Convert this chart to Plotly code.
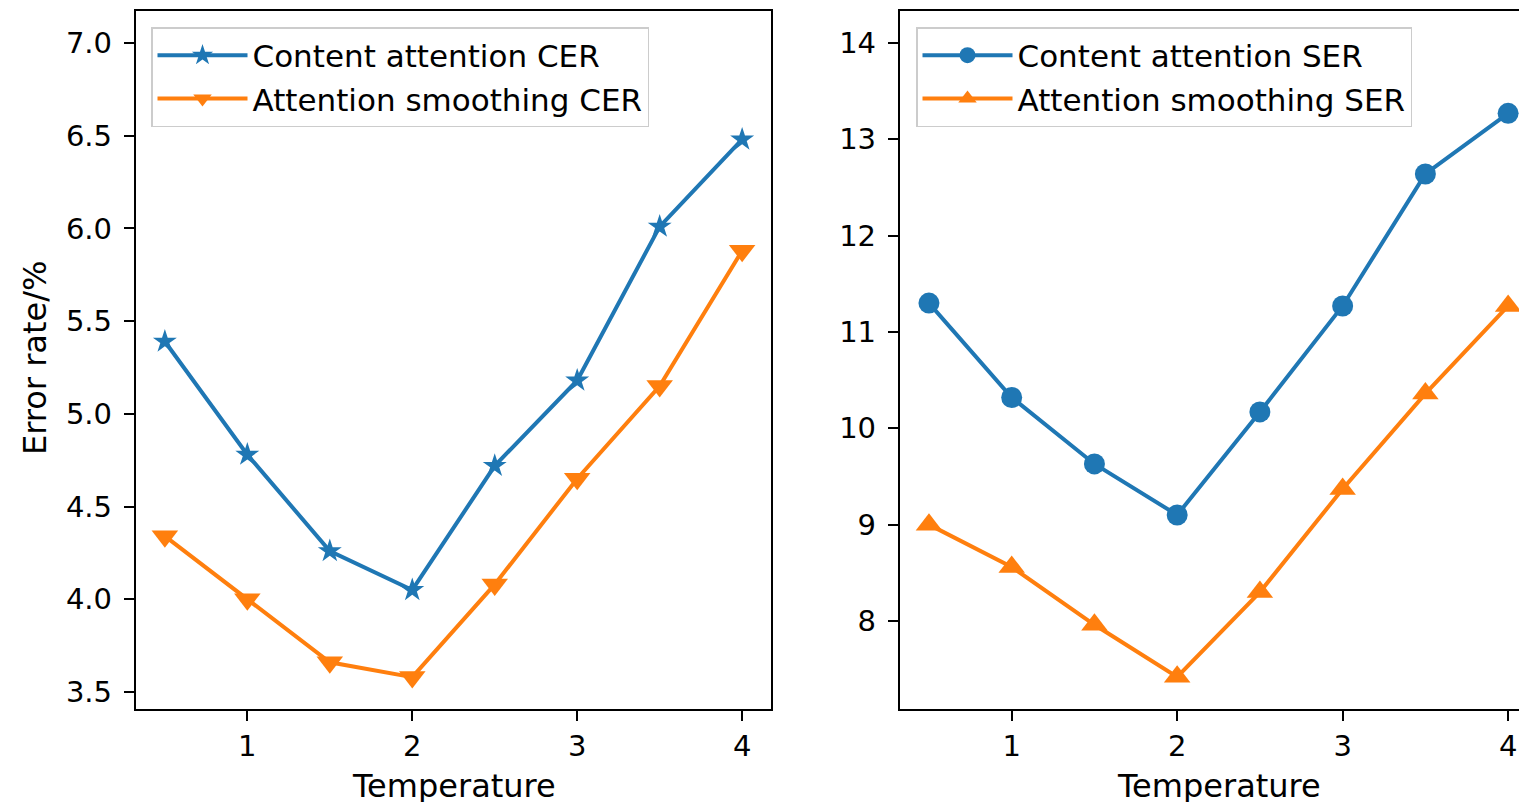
import plotly.graph_objects as go

temperature = [0.5, 1.0, 1.5, 2.0, 2.5, 3.0, 3.5, 4.0]
content_cer = [5.39, 4.78, 4.26, 4.05, 4.72, 5.18, 6.01, 6.48]
smoothing_cer = [4.34, 4.00, 3.66, 3.58, 4.08, 4.65, 5.15, 5.88]
content_ser = [11.30, 10.32, 9.63, 9.10, 10.17, 11.27, 12.64, 13.27]
smoothing_ser = [9.00, 8.56, 7.96, 7.42, 8.30, 9.37, 10.36, 11.27]

BLUE = "#1f77b4"
ORANGE = "#ff7f0e"
FONT = "DejaVu Sans"
FS_TICK = 29
FS_LEG = 31
FS_LAB = 32
W, H = 1519, 802

fig = go.Figure()

fig.add_trace(go.Scatter(x=temperature, y=content_cer, mode="lines+markers",
                         name="Content attention CER",
                         line=dict(color=BLUE, width=4),
                         marker=dict(symbol="star", size=18, color=BLUE),
                         xaxis="x", yaxis="y", legend="legend"))
fig.add_trace(go.Scatter(x=temperature, y=smoothing_cer, mode="lines+markers",
                         name="Attention smoothing CER",
                         line=dict(color=ORANGE, width=4),
                         marker=dict(symbol="triangle-down", size=23, color=ORANGE),
                         xaxis="x", yaxis="y", legend="legend"))
fig.add_trace(go.Scatter(x=temperature, y=content_ser, mode="lines+markers",
                         name="Content attention SER",
                         line=dict(color=BLUE, width=4),
                         marker=dict(symbol="circle", size=21, color=BLUE),
                         xaxis="x2", yaxis="y2", legend="legend2"))
fig.add_trace(go.Scatter(x=temperature, y=smoothing_ser, mode="lines+markers",
                         name="Attention smoothing SER",
                         line=dict(color=ORANGE, width=4),
                         marker=dict(symbol="triangle-up", size=23, color=ORANGE),
                         xaxis="x2", yaxis="y2", legend="legend2"))

ytop = 1 - 11 / H
ybot = 1 - 709 / H
tickfont = dict(family=FONT, size=FS_TICK, color="black")
axis_common = dict(showgrid=False, zeroline=False, showline=True, linecolor="black",
                   linewidth=2.3, ticks="outside", ticklen=10, tickwidth=2.3,
                   tickcolor="black", tickfont=tickfont)
legend_common = dict(xanchor="left", yanchor="top", y=1 - 27 / H,
                     bgcolor="rgba(255,255,255,0.8)", bordercolor="#cccccc",
                     borderwidth=1.5, itemwidth=90,
                     font=dict(family=FONT, size=FS_LEG, color="black"))

fig.update_layout(
    width=W, height=H,
    margin=dict(l=0, r=0, t=0, b=0),
    paper_bgcolor="white", plot_bgcolor="white",
    font=dict(family=FONT, size=FS_TICK, color="black"),
    xaxis=dict(domain=[136 / W, 771 / W], range=[0.325, 4.175], tickvals=[1, 2, 3, 4],
               anchor="y", mirror=True, **axis_common),
    yaxis=dict(domain=[ybot, ytop], range=[3.408, 7.173], tick0=3.5, dtick=0.5,
               tickformat=".1f", anchor="x", mirror=True, ticklabelstandoff=6,
               **axis_common),
    xaxis2=dict(domain=[900 / W, 1.0], range=[0.325, 1 + (1519 - 1011) / 165.7],
                tickvals=[1, 2, 3, 4], anchor="y2", mirror=True, **axis_common),
    yaxis2=dict(domain=[ybot, ytop], range=[7.086, 14.332], tick0=8, dtick=1,
                anchor="x2", mirror=False, ticklabelstandoff=6, **axis_common),
    legend=dict(x=151 / W, **legend_common),
    legend2=dict(x=916 / W, **legend_common),
    showlegend=True,
    annotations=[
        dict(text="Temperature", xref="paper", yref="paper", x=453.5 / W, y=1 - 786 / H,
             xanchor="center", yanchor="middle", showarrow=False,
             font=dict(family=FONT, size=FS_LAB, color="black")),
        dict(text="Temperature", xref="paper", yref="paper", x=1218.5 / W, y=1 - 786 / H,
             xanchor="center", yanchor="middle", showarrow=False,
             font=dict(family=FONT, size=FS_LAB, color="black")),
        dict(text="Error rate/%", xref="paper", yref="paper", x=35 / W, y=1 - 358 / H,
             xanchor="center", yanchor="middle", showarrow=False, textangle=-90,
             font=dict(family=FONT, size=FS_LAB, color="black")),
    ],
)

fig.write_html("out.html", config={"displayModeBar": False},
               post_script="document.body.style.margin='0px';document.body.style.overflow='hidden';")
